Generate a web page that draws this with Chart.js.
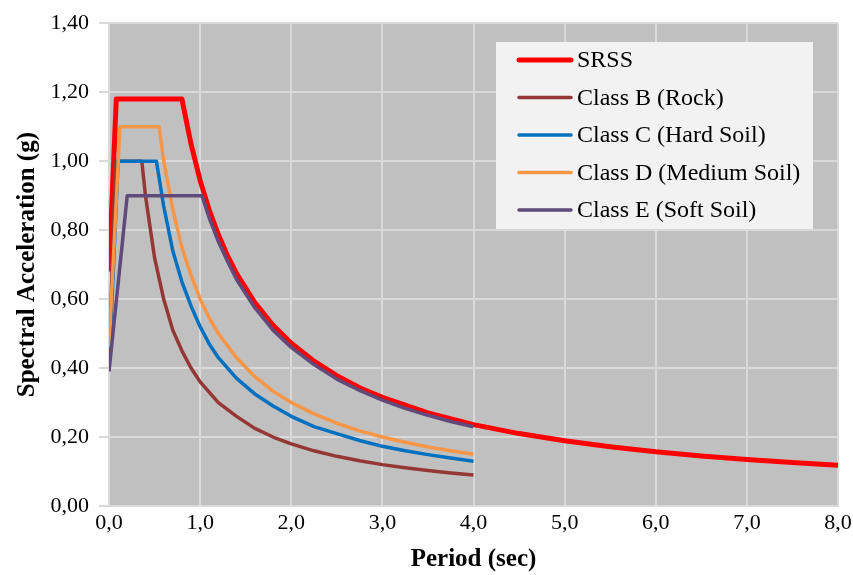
<!DOCTYPE html>
<html>
<head>
<meta charset="utf-8">
<script src="https://cdn.jsdelivr.net/npm/chart.js@4.4.0/dist/chart.umd.min.js"></script>
<style>
  html, body { margin: 0; padding: 0; background: #ffffff; }
  #wrap { width: 853px; height: 575px; }
</style>
</head>
<body>
<div id="wrap"><canvas id="spectrum" width="853" height="575"></canvas></div>
<script>
// Response spectra: period (sec) and spectral acceleration (g)

let srssT  = [0, 0.08, 0.80, 0.90, 1.00, 1.10, 1.20, 1.30, 1.40, 1.60, 1.80, 2.00, 2.25, 2.50, 2.75, 3.00, 3.50, 4.00, 4.50, 5.00, 5.50, 6.00, 6.50, 7.00, 7.50, 8.00];
let srssSa = [0.68, 1.18, 1.18, 1.05, 0.944, 0.858, 0.787, 0.726, 0.674, 0.590, 0.524, 0.472, 0.420, 0.378, 0.343, 0.315, 0.270, 0.236, 0.210, 0.189, 0.172, 0.157, 0.145, 0.135, 0.126, 0.118];

let rockT  = [0, 0.07, 0.36, 0.40, 0.50, 0.60, 0.70, 0.80, 0.90, 1.00, 1.20, 1.40, 1.60, 1.80, 2.00, 2.25, 2.50, 2.75, 3.00, 3.25, 3.50, 3.75, 4.00];
let rockSa = [0.40, 1.00, 1.00, 0.90, 0.72, 0.60, 0.51, 0.45, 0.40, 0.36, 0.30, 0.26, 0.225, 0.20, 0.18, 0.16, 0.144, 0.131, 0.12, 0.111, 0.103, 0.096, 0.09];

let hardT  = [0, 0.10, 0.52, 0.60, 0.70, 0.80, 0.90, 1.00, 1.10, 1.20, 1.40, 1.60, 1.80, 2.00, 2.25, 2.50, 2.75, 3.00, 3.25, 3.50, 3.75, 4.00];
let hardSa = [0.40, 1.00, 1.00, 0.87, 0.74, 0.65, 0.58, 0.52, 0.47, 0.43, 0.37, 0.325, 0.29, 0.26, 0.23, 0.21, 0.19, 0.173, 0.16, 0.149, 0.139, 0.13];

let mediumT  = [0, 0.12, 0.55, 0.60, 0.70, 0.80, 0.90, 1.00, 1.10, 1.20, 1.40, 1.60, 1.80, 2.00, 2.25, 2.50, 2.75, 3.00, 3.25, 3.50, 3.75, 4.00];
let mediumSa = [0.46, 1.10, 1.10, 1.00, 0.86, 0.75, 0.67, 0.60, 0.545, 0.50, 0.43, 0.375, 0.333, 0.30, 0.267, 0.24, 0.218, 0.20, 0.185, 0.171, 0.16, 0.15];

let softT  = [0, 0.20, 1.02, 1.10, 1.20, 1.30, 1.40, 1.60, 1.80, 2.00, 2.25, 2.50, 2.75, 3.00, 3.25, 3.50, 3.75, 4.00];
let softSa = [0.39, 0.90, 0.90, 0.835, 0.767, 0.71, 0.657, 0.575, 0.51, 0.46, 0.41, 0.368, 0.335, 0.307, 0.283, 0.263, 0.245, 0.23];

let seriesNames = ['SRSS', 'Class B (Rock)', 'Class C (Hard Soil)', 'Class D (Medium Soil)', 'Class E (Soft Soil)'];
let seriesColors = ['#ff0000', '#953735', '#0070c0', '#f79646', '#604a7b'];

let xTicks = [0, 1, 2, 3, 4, 5, 6, 7, 8];
let yTicks = [0, 0.2, 0.4, 0.6, 0.8, 1.0, 1.2, 1.4];

function toPoints(ts, sa) {
    return ts.map((t, i) => ({ x: t, y: sa[i] }));
}

let serif = "'Liberation Serif', 'Times New Roman', serif";

// gray plot background
let plotBackground = {
    id: 'plotBackground',
    beforeDraw(chart) {
        let a = chart.chartArea;
        let c = chart.ctx;
        c.save();
        c.fillStyle = '#c0c0c0';
        c.fillRect(a.left, a.top, a.right - a.left, a.bottom - a.top);
        c.restore();
    }
};

// legend box drawn inside the plot, top right
let boxLegend = {
    id: 'boxLegend',
    afterDraw(chart) {
        let c = chart.ctx;
        c.save();
        c.fillStyle = '#f2f2f2';
        c.fillRect(496, 42, 317, 187);
        c.font = "24px " + serif;
        c.textBaseline = 'middle';
        c.textAlign = 'left';
        seriesNames.forEach((name, i) => {
            let y = 60 + i * 37.5;
            c.strokeStyle = seriesColors[i];
            c.lineWidth = i === 0 ? 5 : 3.5;
            c.lineCap = 'round';
            c.beginPath();
            c.moveTo(519, y);
            c.lineTo(571, y);
            c.stroke();
            c.fillStyle = '#000000';
            c.fillText(name, 577, y + 1);
        });
        c.restore();
    }
};

let ctx = document.getElementById('spectrum').getContext('2d');
let chart = new Chart(ctx, {
    type: 'line',
    data: {
        datasets: [
            { label: seriesNames[0], data: toPoints(srssT, srssSa), borderColor: seriesColors[0], borderWidth: 5, order: 5 },
            { label: seriesNames[1], data: toPoints(rockT, rockSa), borderColor: seriesColors[1], borderWidth: 3.5, order: 4 },
            { label: seriesNames[2], data: toPoints(hardT, hardSa), borderColor: seriesColors[2], borderWidth: 3.5, order: 3 },
            { label: seriesNames[3], data: toPoints(mediumT, mediumSa), borderColor: seriesColors[3], borderWidth: 3.5, order: 2 },
            { label: seriesNames[4], data: toPoints(softT, softSa), borderColor: seriesColors[4], borderWidth: 3.5, order: 1 }
        ]
    },
    options: {
        responsive: false,
        animation: false,
        layout: { padding: { left: 0, right: 15, top: 21, bottom: 0 } },
        elements: {
            point: { radius: 0 },
            line: { tension: 0, borderCapStyle: 'butt', borderJoinStyle: 'round', fill: false }
        },
        plugins: {
            legend: { display: false },
            tooltip: { enabled: false }
        },
        scales: {
            x: {
                type: 'linear',
                min: 0,
                max: 8,
                afterFit(scale) {
                    scale.height = 69;
                    // let the last label run to the canvas edge like the original
                    scale.paddingRight = 0;
                    scale.paddingLeft = 0;
                },
                afterBuildTicks(scale) { scale.ticks = xTicks.map(v => ({ value: v })); },
                grid: { color: '#d9d9d9', lineWidth: 2, drawTicks: false },
                border: { color: '#d9d9d9', width: 2 },
                ticks: {
                    color: '#000000',
                    font: { family: serif, size: 22 },
                    padding: 4,
                    maxRotation: 0,
                    callback: v => v.toFixed(1).replace('.', ',')
                },
                title: {
                    display: true,
                    text: 'Period (sec)',
                    color: '#000000',
                    font: { family: serif, size: 25, weight: 'bold' },
                    padding: { top: 0, bottom: 0 }
                }
            },
            y: {
                type: 'linear',
                min: 0,
                max: 1.4,
                afterFit(scale) { scale.width = 109; },
                afterBuildTicks(scale) { scale.ticks = yTicks.map(v => ({ value: v })); },
                grid: { color: '#d9d9d9', lineWidth: 2, tickLength: 10, tickColor: '#d9d9d9' },
                border: { color: '#d9d9d9', width: 2 },
                ticks: {
                    color: '#000000',
                    font: { family: serif, size: 22 },
                    padding: 10,
                    callback: v => v.toFixed(2).replace('.', ',')
                },
                title: {
                    display: true,
                    text: 'Spectral Acceleration (g)',
                    color: '#000000',
                    font: { family: serif, size: 25, weight: 'bold' },
                    padding: { top: 13, bottom: 0 }
                }
            }
        }
    },
    plugins: [plotBackground, boxLegend]
});
</script>
</body>
</html>
